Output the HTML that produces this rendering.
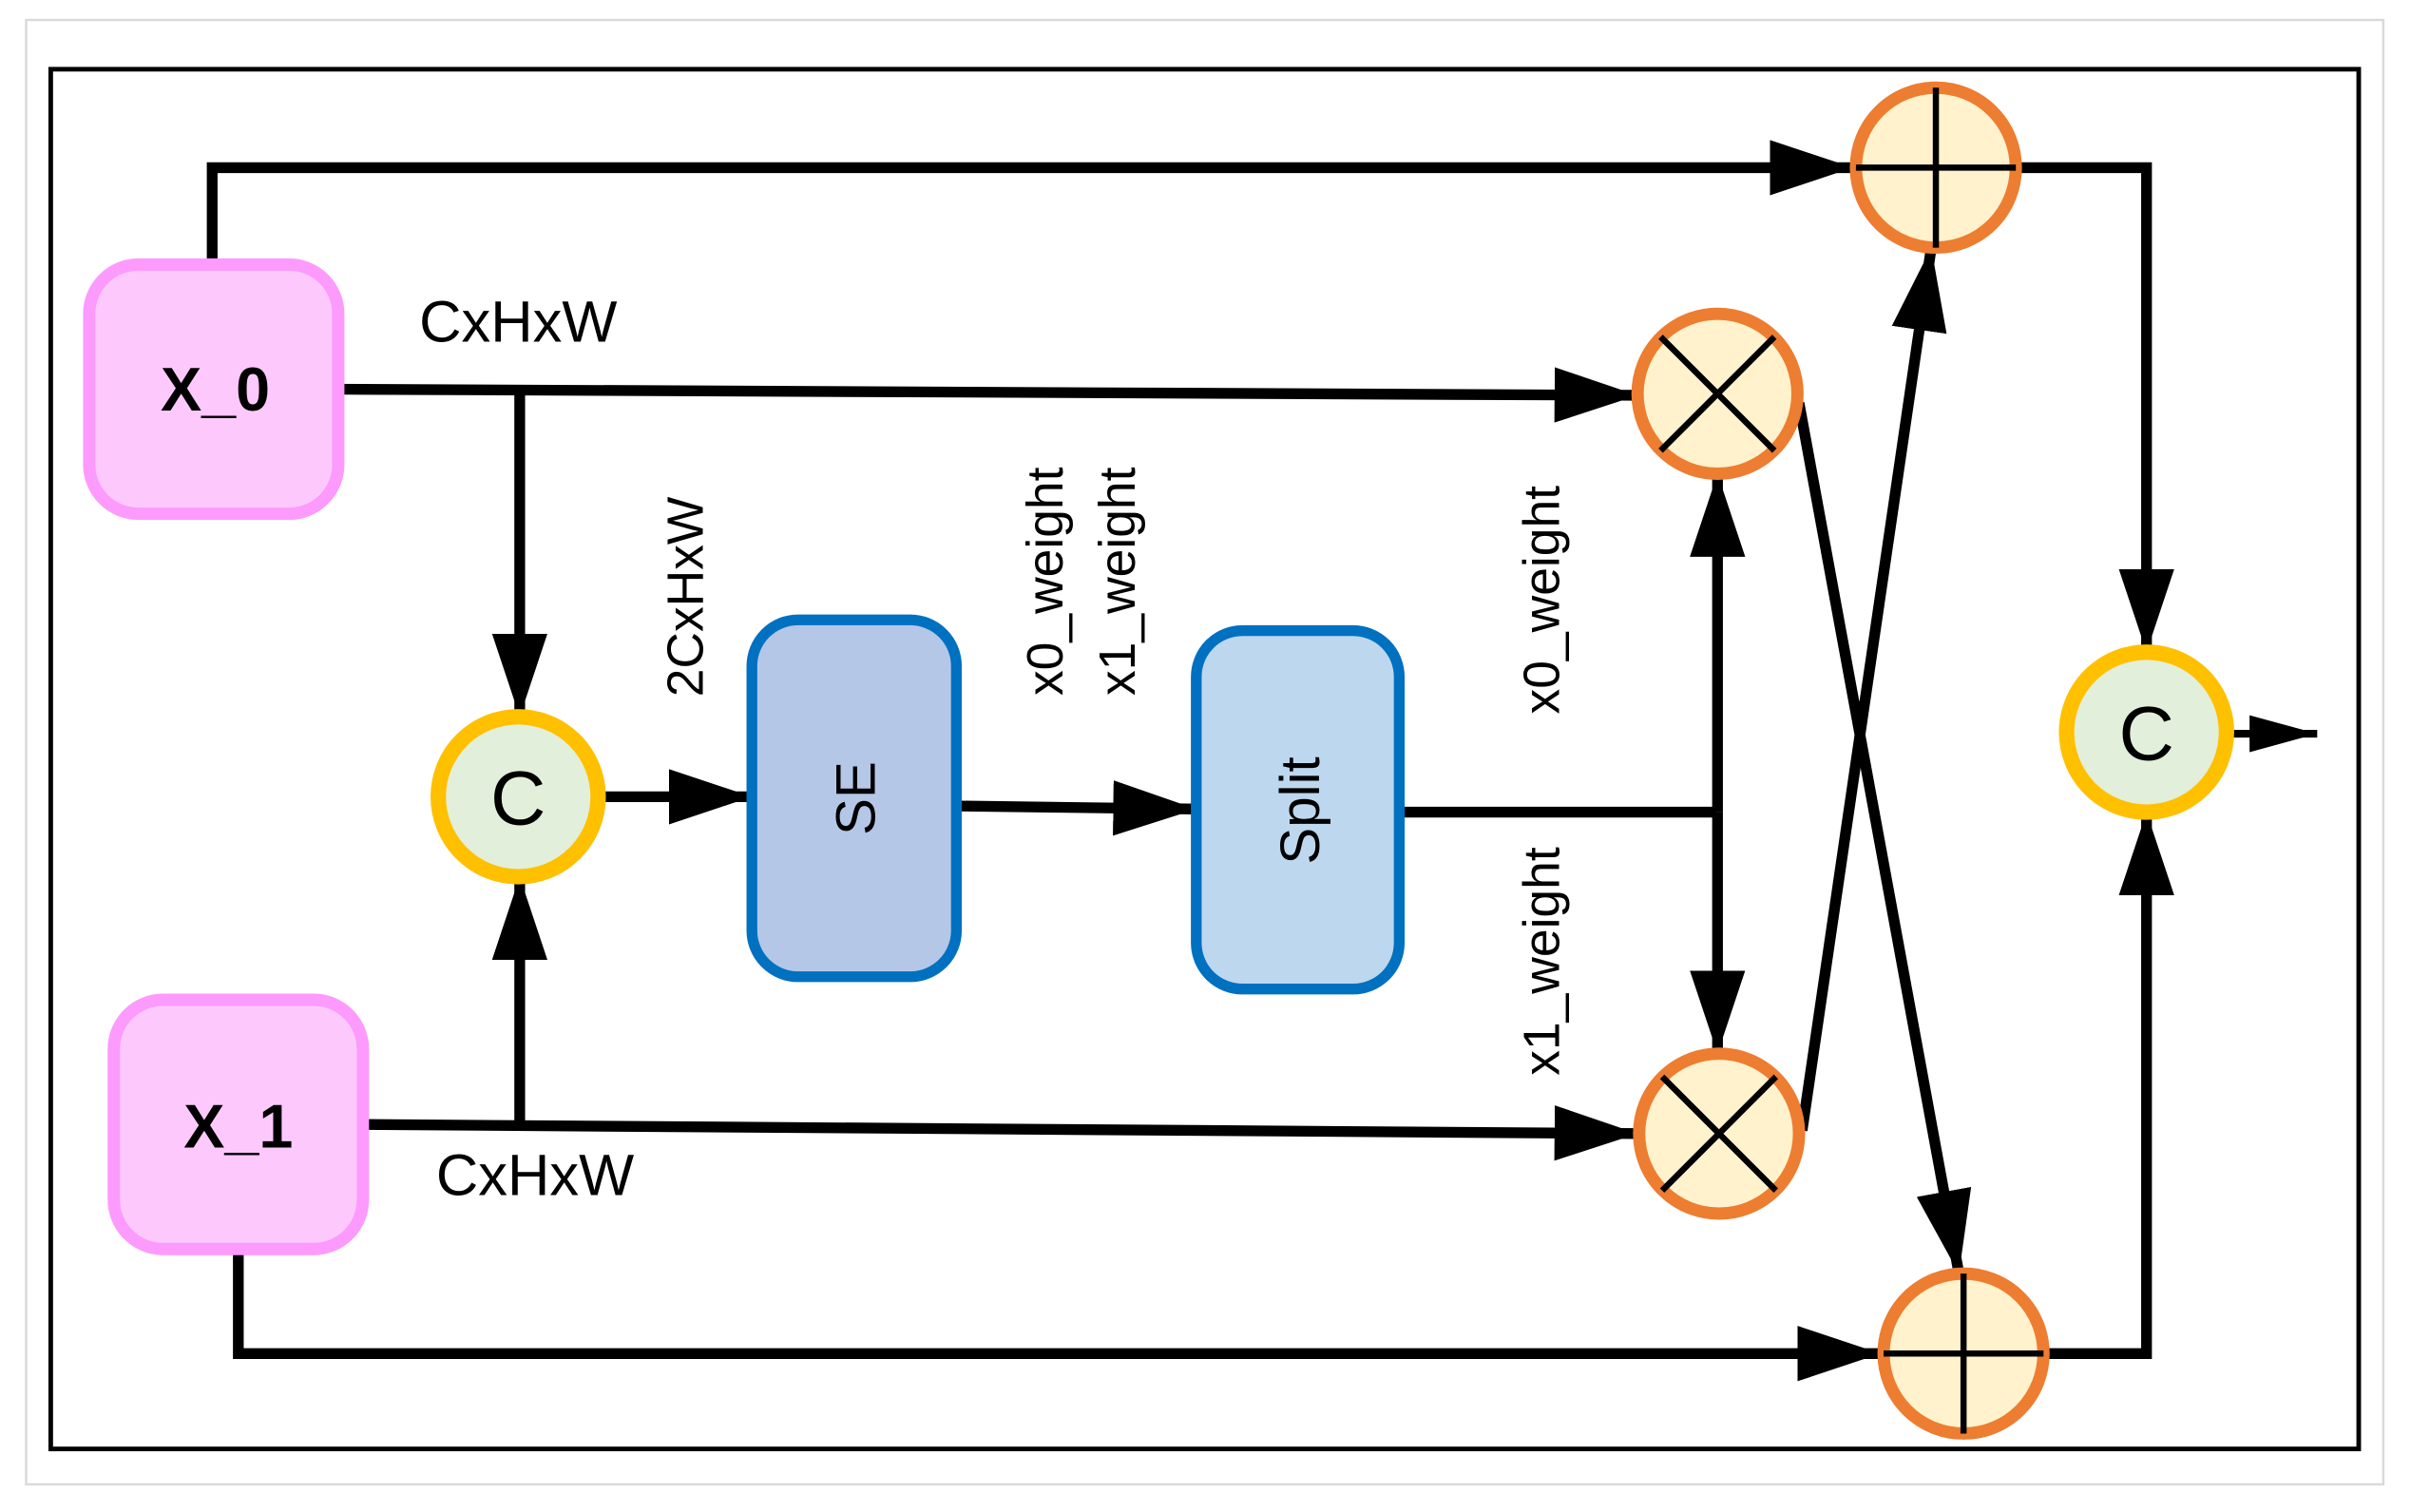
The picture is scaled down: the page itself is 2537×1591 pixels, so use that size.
<!DOCTYPE html>
<html><head><meta charset="utf-8"><style>html,body{margin:0;padding:0;background:#fff}svg{display:block}</style></head>
<body>
<svg width="2537" height="1591" viewBox="0 0 1568 983" preserveAspectRatio="none" xmlns="http://www.w3.org/2000/svg" font-family="'Liberation Sans', sans-serif">
<defs>
<marker id="a" markerUnits="userSpaceOnUse" markerWidth="60" markerHeight="40" refX="54" refY="18" orient="auto"><path d="M0,0 L54,18 L0,36 Z" fill="#000"/></marker>
<marker id="s" markerUnits="userSpaceOnUse" markerWidth="50" markerHeight="30" refX="44" refY="12" orient="auto"><path d="M0,0 L44,12 L0,24 Z" fill="#000"/></marker>
</defs>
<rect x="17" y="13" width="1533" height="952" fill="#fff" stroke="#d9d9d9" stroke-width="1.5"/>
<rect x="33" y="45" width="1501" height="897" fill="none" stroke="#000" stroke-width="3"/>
<g stroke="#000" stroke-width="7" fill="none">
<polyline points="138,178 138,109 1205,109" marker-end="url(#a)"/>
<line x1="213" y1="253" x2="1065" y2="257" marker-end="url(#a)"/>
<line x1="338" y1="255" x2="338" y2="466" marker-end="url(#a)"/>
<line x1="230" y1="731" x2="1065" y2="737" marker-end="url(#a)"/>
<line x1="338" y1="731" x2="338" y2="570" marker-end="url(#a)"/>
<polyline points="155,805 155,880 1223,880" marker-end="url(#a)"/>
<line x1="390" y1="518" x2="489" y2="518" marker-end="url(#a)"/>
<line x1="622" y1="524" x2="778" y2="526" marker-end="url(#a)"/>
<line x1="910" y1="528" x2="1116" y2="528"/>
<line x1="1117" y1="528" x2="1117" y2="308" marker-end="url(#a)"/>
<line x1="1117" y1="528" x2="1117" y2="685" marker-end="url(#a)"/>
<line x1="1170" y1="262" x2="1274" y2="828" marker-end="url(#a)"/>
<line x1="1172" y1="735" x2="1256" y2="161" marker-end="url(#a)"/>
<polyline points="1311,109 1396,109 1396,424" marker-end="url(#a)"/>
<polyline points="1329,880 1396,880 1396,528" marker-end="url(#a)"/>
<line x1="1448" y1="477" x2="1507" y2="477" stroke-width="5" marker-end="url(#s)"/>
</g>
<rect x="58" y="172" width="162" height="162" rx="32" fill="#fdc9fd" stroke="#fd9afd" stroke-width="8"/>
<text x="140" y="267" font-size="40" font-weight="bold" text-anchor="middle">X_0</text>
<rect x="74" y="650" width="162" height="162" rx="32" fill="#fdc9fd" stroke="#fd9afd" stroke-width="8"/>
<text x="155" y="746" font-size="40" font-weight="bold" text-anchor="middle">X_1</text>
<circle cx="337" cy="518" r="52" fill="#e2efda" stroke="#ffc000" stroke-width="10"/>
<text x="337" y="536" font-size="50" text-anchor="middle">C</text>
<circle cx="1396" cy="476" r="52" fill="#e2efda" stroke="#ffc000" stroke-width="10"/>
<text x="1396" y="494" font-size="50" text-anchor="middle">C</text>
<rect x="489" y="403" width="133" height="232" rx="30" fill="#b4c7e7" stroke="#0070c0" stroke-width="7"/>
<text transform="translate(569,519) rotate(-90)" font-size="36" text-anchor="middle">SE</text>
<rect x="778" y="410" width="132" height="233" rx="30" fill="#bdd7ee" stroke="#0070c0" stroke-width="7"/>
<text transform="translate(858,527) rotate(-90)" font-size="36" text-anchor="middle">Split</text>
<g stroke="#ed7d31" stroke-width="8" fill="#fff2cc">
<circle cx="1117" cy="256" r="52"/><circle cx="1118" cy="737" r="52"/>
<circle cx="1259" cy="109" r="52"/><circle cx="1277" cy="880" r="52"/>
</g>
<g stroke="#000" stroke-width="4">
<line x1="1080" y1="219" x2="1154" y2="293"/><line x1="1154" y1="219" x2="1080" y2="293"/>
<line x1="1081" y1="700" x2="1155" y2="774"/><line x1="1155" y1="700" x2="1081" y2="774"/>
<line x1="1259" y1="57" x2="1259" y2="161"/><line x1="1207" y1="109" x2="1311" y2="109"/>
<line x1="1277" y1="828" x2="1277" y2="932"/><line x1="1225" y1="880" x2="1329" y2="880"/>
</g>
<g font-size="38">
<text x="337" y="222" text-anchor="middle">CxHxW</text>
<text x="348" y="777" text-anchor="middle">CxHxW</text>
</g>
<g font-size="33" text-anchor="middle">
<text transform="translate(457,388) rotate(-90)">2CxHxW</text>
<text transform="translate(691,378) rotate(-90)">x0_weight</text>
<text transform="translate(738,378) rotate(-90)">x1_weight</text>
<text transform="translate(1014,390) rotate(-90)">x0_weight</text>
<text transform="translate(1014,625) rotate(-90)">x1_weight</text>
</g>
</svg>
</body></html>
